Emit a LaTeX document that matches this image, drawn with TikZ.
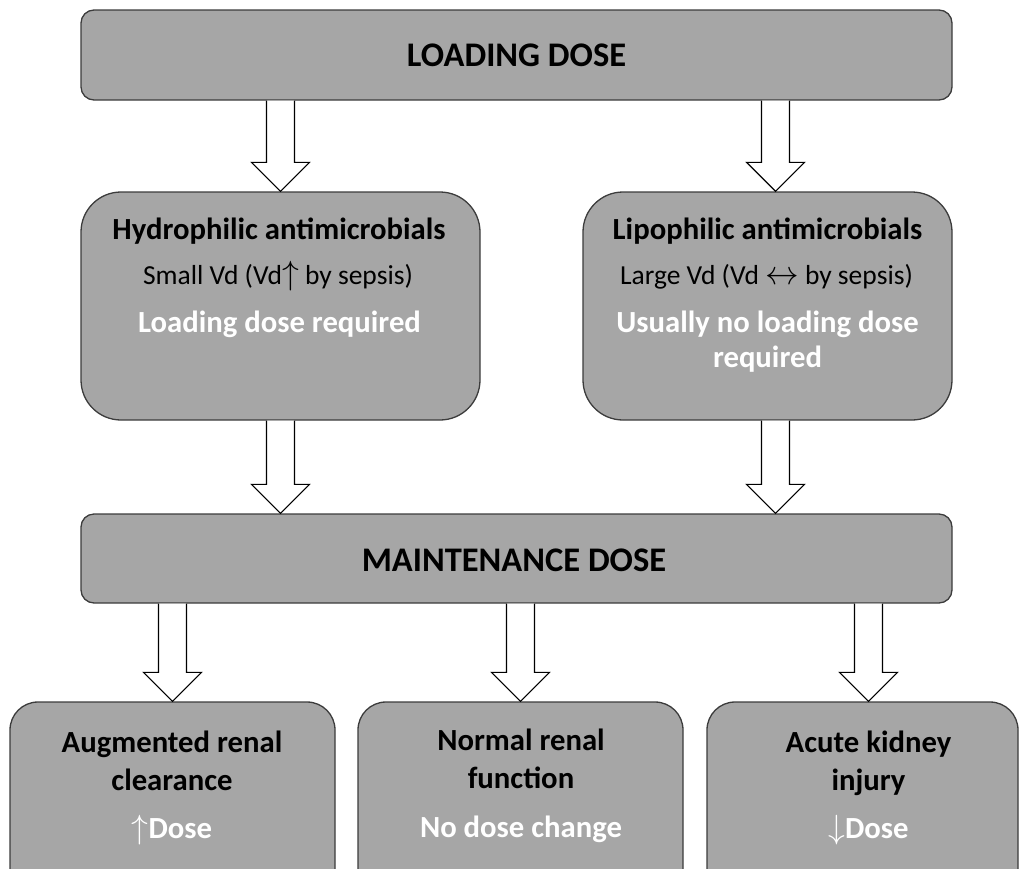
\documentclass[tikz,border=0pt]{standalone}
\usepackage{fontspec}
\usepackage{graphicx}
\setmainfont{Carlito}
\usetikzlibrary{calc}

\definecolor{boxfill}{RGB}{166,166,166}
\definecolor{boxline}{RGB}{60,60,60}

\tikzset{
  box/.style={draw=boxline, fill=boxfill, line width=1.3pt, inner sep=0pt},
  widebox/.style={box, rounded corners=13pt, minimum width=871pt, minimum height=90pt},
  drugbox/.style={box, rounded corners=40pt, minimum height=228pt},
  renalbox/.style={box, rounded corners=28pt, minimum height=200pt},
  titletext/.style={font=\fontsize{34.5}{40}\selectfont\bfseries, anchor=base},
  headtext/.style={font=\fontsize{30.7}{38}\selectfont\bfseries, align=center, anchor=base},
  infotext/.style={font=\fontsize{27.5}{30}\selectfont, anchor=base},
  notetext/.style={font=\fontsize{30.7}{35}\selectfont\bfseries, text=white, align=center, anchor=base},
  fatarrow/.style={draw=black, fill=white, line width=1.2pt, line join=miter},
}

% block arrow: #1 start on the upper box, #2 tip on the lower box
\newcommand{\fatarrow}[2]{%
  \draw[fatarrow] ($(#1)+(-14,0)$) -- ($(#2)+(-14,-29)$) -- ($(#2)+(-29,-29)$) -- (#2)
    -- ($(#2)+(29,-29)$) -- ($(#2)+(14,-29)$) -- ($(#1)+(14,0)$);}
\newcommand{\uparr}{\scalebox{1.35}{$\uparrow$}}
\newcommand{\downarr}{\scalebox{1.35}{$\downarrow$}}
\newcommand{\bothways}{\scalebox{1.35}{$\leftrightarrow$}}

\begin{document}
\begin{tikzpicture}[x=1pt, y=-1pt]
  \useasboundingbox (0,0) rectangle (1020,868);
  \clip (0,0) rectangle (1020,868);

  % boxes
  \node[widebox] (load) at (516.5,55) {};
  \node[drugbox, minimum width=399pt] (hydro) at (280.5,306) {};
  \node[drugbox, minimum width=369pt] (lipo) at (767.5,306) {};
  \node[widebox, minimum height=89pt] (maint) at (516.5,558.5) {};
  \node[renalbox, minimum width=325pt] (arc) at (172.5,802) {};
  \node[renalbox, minimum width=325pt] (normal) at (520.5,802) {};
  \node[renalbox, minimum width=311pt] (aki) at (862.5,802) {};

  % texts (multi-line nodes sit on their last baseline)
  \node[titletext] (loadtxt) at (516.5,66) {LOADING DOSE};
  \node[titletext] (maintxt) at (514,571) {MAINTENANCE DOSE};

  \node[headtext] (hydrohead) at (279,239) {Hydrophilic antimicrobials};
  \node[infotext] (hydrovd) at (278,284) {Small Vd (Vd\uparr{} by sepsis)};
  \node[notetext] (hydronote) at (279.5,332) {Loading dose required};

  \node[headtext] (lipohead) at (767.5,239) {Lipophilic antimicrobials};
  \node[infotext] (lipovd) at (766.5,284) {Large Vd (Vd \bothways{} by sepsis)};
  \node[notetext] (liponote) at (767.5,367) {Usually no loading dose\\required};

  \node[headtext] (archead) at (172,790) {Augmented renal\\clearance};
  \node[notetext] (arcnote) at (172,838) {\uparr{}Dose};
  \node[headtext] (normalhead) at (521,788) {Normal renal\\function};
  \node[notetext] (normalnote) at (521,837) {No dose change};
  \node[headtext] (akihead) at (868.5,790) {Acute kidney\\injury};
  \node[notetext] (akinote) at (868.5,838) {\downarr{}Dose};

  % arrow ends
  \coordinate (h1s) at (hydro.north |- load.south);
  \coordinate (l1t) at ($(lipo.north)+(8,0)$);
  \coordinate (l1s) at (l1t |- load.south);
  \coordinate (h2t) at (hydro.south |- maint.north);
  \coordinate (l2s) at ($(lipo.south)+(8,0)$);
  \coordinate (l2t) at (l2s |- maint.north);
  \coordinate (a1s) at (arc.north |- maint.south);
  \coordinate (n1s) at (normal.north |- maint.south);
  \coordinate (k1t) at ($(aki.north)+(6,0)$);
  \coordinate (k1s) at (k1t |- maint.south);

  % arrows
  \fatarrow{h1s}{hydro.north}
  \fatarrow{l1s}{l1t}
  \fatarrow{hydro.south}{h2t}
  \fatarrow{l2s}{l2t}
  \fatarrow{a1s}{arc.north}
  \fatarrow{n1s}{normal.north}
  \fatarrow{k1s}{k1t}
\end{tikzpicture}
\end{document}
